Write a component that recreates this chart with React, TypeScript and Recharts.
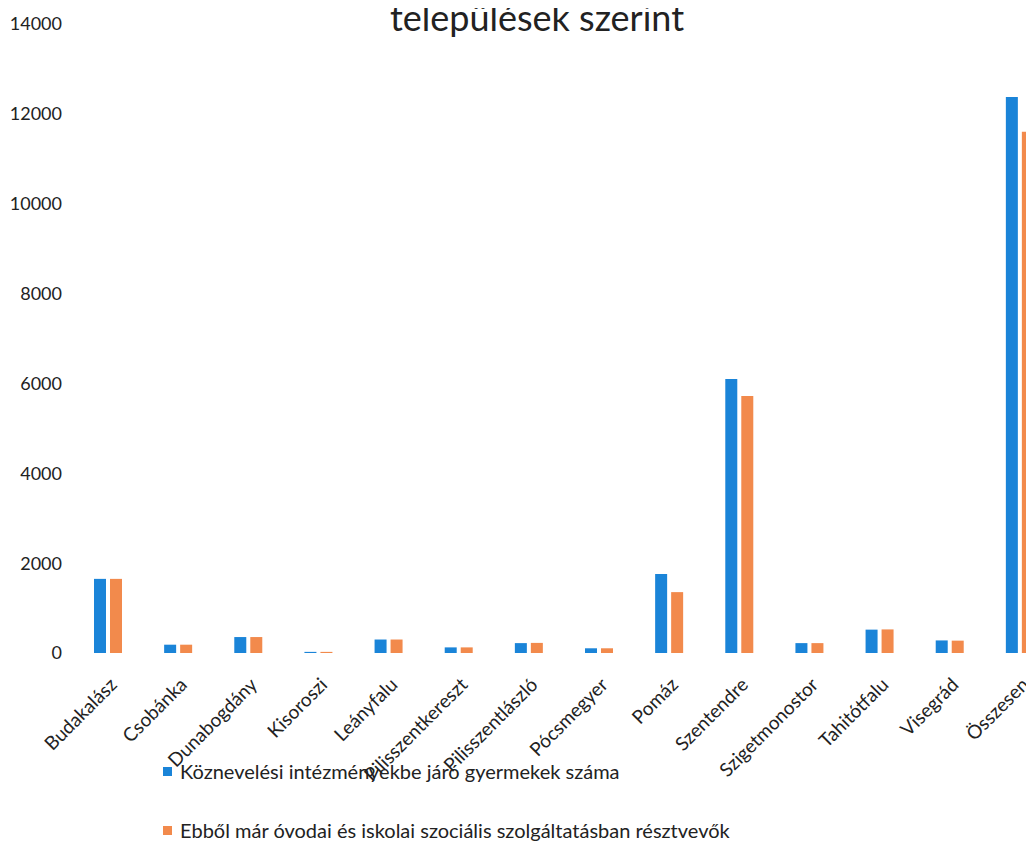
import React from "react";
import { BarChart, Bar, XAxis, YAxis } from "recharts";

const settlements = [
  "Budakalász",
  "Csobánka",
  "Dunabogdány",
  "Kisoroszi",
  "Leányfalu",
  "Pilisszentkereszt",
  "Pilisszentlászló",
  "Pócsmegyer",
  "Pomáz",
  "Szentendre",
  "Szigetmonostor",
  "Tahitótfalu",
  "Visegrád",
  "Összesen",
];

const children = [1650, 185, 355, 25, 300, 125, 220, 105, 1760, 6100, 220, 520, 280, 12375];
const participants = [1650, 185, 355, 25, 300, 125, 225, 105, 1355, 5720, 220, 525, 275, 11600];

const seriesNames = [
  "Köznevelési intézményekbe járó gyermekek száma",
  "Ebből már óvodai és iskolai szociális szolgáltatásban résztvevők",
];

const yTicks = [0, 2000, 4000, 6000, 8000, 10000, 12000, 14000];

const titleText = "települések szerint";

const BLUE = "#1a84d8";
const ORANGE = "#f28a4c";
const FONT = "Lato, 'Open Sans', sans-serif";

const data = settlements.map((name, i) => ({
  name,
  children: children[i],
  participants: participants[i],
}));

function CategoryTick(props: any) {
  const { x, y, payload } = props;
  const ax = x + 10;
  const ay = y + 33;
  return (
    <text
      x={ax}
      y={ay}
      textAnchor="end"
      transform={`rotate(-45, ${ax}, ${ay})`}
      fill="#222"
      fontSize={19}
      fontFamily={FONT}
    >
      {payload.value}
    </text>
  );
}

export default function App() {
  return (
    <div
      style={{
        position: "relative",
        width: 1034,
        height: 850,
        margin: -8,
        overflow: "hidden",
        background: "#fff",
        fontFamily: FONT,
        color: "#222",
      }}
    >
      <div
        style={{
          position: "absolute",
          top: 0,
          left: 20,
          width: 1034,
          textAlign: "center",
          fontSize: 36,
          lineHeight: "34px",
          whiteSpace: "nowrap",
        }}
      >
        {titleText}
      </div>

      <BarChart
        width={1070}
        height={850}
        data={data}
        margin={{ top: 24, right: 15, bottom: 47, left: 0 }}
        barSize={12}
        barGap={4}
      >
        <XAxis
          dataKey="name"
          interval={0}
          axisLine={false}
          tickLine={false}
          tickSize={0}
          tickMargin={0}
          height={150}
          tick={<CategoryTick />}
        />
        <YAxis
          domain={[0, 14000]}
          ticks={yTicks}
          axisLine={false}
          tickLine={false}
          tickSize={0}
          tickMargin={11}
          width={73}
          tick={{ fill: "#222", fontSize: 18, fontFamily: FONT }}
        />
        <Bar dataKey="children" name={seriesNames[0]} fill={BLUE} isAnimationActive={false} />
        <Bar dataKey="participants" name={seriesNames[1]} fill={ORANGE} isAnimationActive={false} />
      </BarChart>

      {seriesNames.map((label, i) => (
        <div
          key={label}
          style={{
            position: "absolute",
            left: 163,
            top: i === 0 ? 759 : 818,
            display: "flex",
            alignItems: "center",
            fontSize: 20,
            lineHeight: "24px",
            whiteSpace: "nowrap",
          }}
        >
          <span
            style={{
              display: "inline-block",
              width: 9,
              height: 9,
              background: i === 0 ? BLUE : ORANGE,
              marginRight: 8,
            }}
          />
          {label}
        </div>
      ))}
    </div>
  );
}
